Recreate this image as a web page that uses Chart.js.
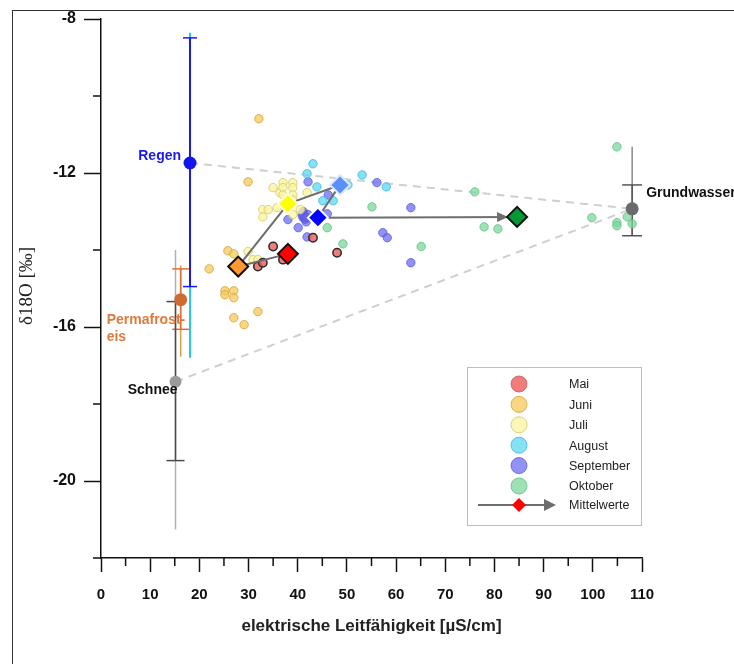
<!DOCTYPE html>
<html>
<head>
<meta charset="utf-8">
<script src="https://cdn.jsdelivr.net/npm/chart.js@4.4.1/dist/chart.umd.min.js"></script>
<style>
  html, body { margin: 0; padding: 0; background: #fff; }
</style>
</head>
<body>
<canvas id="chart" width="734" height="664"></canvas>
<script>
"use strict";

// samples per month: [elektrische Leitfähigkeit µS/cm, δ18O ‰]
const maiPts = [[35.0, -13.91], [31.9, -14.43], [32.9, -14.33], [37.0, -14.25], [43.1, -13.68], [48.0, -14.07]];
const juniPts = [[32.1, -10.59], [29.9, -12.23], [22.0, -14.49], [25.8, -14.02], [27.0, -14.10], [25.2, -15.06],
  [27.0, -15.06], [25.2, -15.16], [27.0, -15.24], [27.0, -15.76], [31.9, -15.60], [29.1, -15.94]];
const juliPts = [[35.0, -12.38], [36.4, -12.51], [37.0, -12.25], [37.0, -12.38], [37.0, -12.57], [39.0, -12.25],
  [39.0, -12.38], [39.0, -12.57], [39.0, -12.70], [41.9, -12.51], [32.9, -12.95], [34.0, -12.95], [32.9, -13.14],
  [35.8, -12.90], [39.0, -13.08], [40.5, -12.95], [30.9, -14.25], [31.9, -14.25], [29.9, -14.04]];
const augustPts = [[43.1, -11.76], [41.9, -12.02], [53.1, -12.05], [58.0, -12.36], [43.9, -12.36], [45.1, -12.72],
  [47.2, -12.72], [50.2, -12.31]];
const septemberPts = [[42.1, -12.23], [56.1, -12.25], [63.0, -12.90], [46.2, -12.57], [46.0, -13.06], [38.0, -13.21],
  [40.1, -13.42], [41.9, -13.66], [41.1, -13.00], [41.1, -13.16], [41.7, -13.27], [42.1, -13.08], [41.4, -13.12],
  [41.0, -13.05], [41.5, -13.20], [40.9, -13.10], [41.8, -13.15],
  [57.3, -13.55], [58.2, -13.68], [63.0, -14.33]];
const oktoberPts = [[55.1, -12.88], [46.0, -13.42], [49.2, -13.84], [65.1, -13.91], [76.0, -12.49], [77.9, -13.40],
  [80.7, -13.45], [99.8, -13.16], [104.9, -13.29], [104.9, -13.37], [107.0, -13.14], [108.0, -13.32], [104.9, -11.32]];

const monthNames = ['Mai', 'Juni', 'Juli', 'August', 'September', 'Oktober'];
const monthPts = [maiPts, juniPts, juliPts, augustPts, septemberPts, oktoberPts];
const monthFill = ['rgba(240,100,100,0.85)', 'rgba(245,200,90,0.75)', 'rgba(250,245,165,0.8)',
  'rgba(95,215,240,0.75)', 'rgba(100,100,240,0.7)', 'rgba(125,215,155,0.75)'];
const monthBorder = ['#2a2a2a', 'rgba(215,170,60,0.9)', 'rgba(215,205,110,0.9)',
  'rgba(70,190,225,0.9)', 'rgba(90,90,225,0.8)', 'rgba(100,195,135,0.85)'];

// Mittelwerte (monthly means), in time order
const meanX = [38.0, 27.9, 38.0, 48.6, 44.1, 84.6];
const meanY = [-14.10, -14.43, -12.80, -12.31, -13.16, -13.14];
const meanFill = ['#ff0000', '#ff9933', '#ffff00', '#5b8ff9', '#0000ff', '#009933'];
const meanBorder = ['#111', '#111', '#fffbe0', '#dce8ff', '#ffffff', '#111'];

// end members
const srcNames = ['Regen', 'Permafrost', 'Schnee', 'Grundwasser'];
const srcX = [18.1, 16.2, 15.15, 108.0];
const srcY = [-11.74, -15.29, -17.42, -12.93];
const srcErrLo = [-14.95, -16.06, -19.47, -13.63];
const srcErrHi = [-8.49, -14.49, -15.34, -12.31];
const srcRangeLo = [-16.80, -16.77, -21.26, -13.63];
const srcRangeHi = [-8.36, -14.40, -14.00, -11.32];
const srcColor = ['#1414ec', '#cf6a30', '#9a9a9a', '#6a6a6a'];
const srcBarColor = ['#1a1aee', '#e07030', '#4a4a4a', '#555555'];
const srcRangeColor = ['#25c8ee', '#d4a040', '#b0b0b0', '#8a8a8a'];
const srcCap = [7, 8.5, 9, 10];

const xTicks = [0, 10, 20, 30, 40, 50, 60, 70, 80, 90, 100, 110];
const xMinor = [5, 15, 25, 35, 45, 55, 65, 75, 85, 95, 105];
const yTicks = [-20, -16, -12, -8];
const yMinor = [-22, -18, -14, -10];

const xy = p => ({ x: p[0], y: p[1] });
const layers = [];

// mixing lines Regen/Schnee -> Grundwasser
[0, 2].forEach(i => {
  layers.push({
    label: 'mix', data: [{ x: srcX[i], y: srcY[i] }, { x: srcX[3], y: srcY[3] }],
    showLine: true, borderColor: '#cfcfcf', borderWidth: 2, borderDash: [8, 6], pointRadius: 0
  });
});

// error bars of the end members
srcNames.forEach((n, i) => {
  layers.push({
    label: 'range', data: [{ x: srcX[i], y: srcRangeLo[i] }, { x: srcX[i], y: srcRangeHi[i] }],
    showLine: true, borderColor: srcRangeColor[i], borderWidth: i == 0 ? 2 : 1.5, pointRadius: 0
  });
});
srcNames.forEach((n, i) => {
  layers.push({
    label: 'err', data: [{ x: srcX[i], y: srcErrLo[i] }, { x: srcX[i], y: srcErrHi[i] }],
    showLine: true, borderColor: srcBarColor[i], borderWidth: i == 0 ? 2 : 1.5,
    pointStyle: 'line', pointRadius: srcCap[i], pointBorderColor: srcBarColor[i], pointBorderWidth: 1.5
  });
});

// monthly samples, Oktober at the bottom, Mai on top
for (let i = monthNames.length - 1; i >= 0; i--) {
  layers.push({
    label: monthNames[i], data: monthPts[i].map(xy),
    backgroundColor: monthFill[i], borderColor: monthBorder[i], borderWidth: i == 0 ? 1.5 : 1, pointRadius: 4.2
  });
}

layers.push({
  label: 'meanLine', data: meanX.map((x, i) => ({ x: x, y: meanY[i] })),
  showLine: true, borderColor: '#6e6e6e', borderWidth: 2, pointRadius: 0
});
layers.push({
  label: 'Mittelwerte', data: meanX.map((x, i) => ({ x: x, y: meanY[i] })),
  pointStyle: 'rectRot', pointRadius: 10, backgroundColor: meanFill, borderColor: meanBorder, borderWidth: 2
});
layers.push({
  label: 'src', data: srcX.map((x, i) => ({ x: x, y: srcY[i] })),
  backgroundColor: srcColor, borderColor: srcColor, borderWidth: 0, pointRadius: [6.5, 6.5, 6, 6.5]
});
layers.forEach((d, i) => { d.order = layers.length - i; });

const decor = {
  id: 'decor',
  beforeDraw(chart) {
    const c = chart.ctx;
    c.save();
    c.strokeStyle = '#333';
    c.lineWidth = 1;
    c.strokeRect(12.5, 10.5, 900, 900);
    c.restore();
  },
  afterDatasetDraw(chart, args) {
    if (chart.data.datasets[args.index].label != 'meanLine') return;
    // arrow head into the last mean (the others sit under the diamonds)
    const c = chart.ctx, sx = chart.scales.x, sy = chart.scales.y;
    const n = meanX.length - 1;
    const x0 = sx.getPixelForValue(meanX[n - 1]), y0 = sy.getPixelForValue(meanY[n - 1]);
    const x1 = sx.getPixelForValue(meanX[n]), y1 = sy.getPixelForValue(meanY[n]);
    const a = Math.atan2(y1 - y0, x1 - x0);
    const tx = x1 - Math.cos(a) * 9, ty = y1 - Math.sin(a) * 9;
    c.save();
    c.fillStyle = '#6e6e6e';
    c.beginPath();
    c.moveTo(tx, ty);
    c.lineTo(tx - Math.cos(a) * 11 - Math.sin(a) * 5, ty - Math.sin(a) * 11 + Math.cos(a) * 5);
    c.lineTo(tx - Math.cos(a) * 11 + Math.sin(a) * 5, ty - Math.sin(a) * 11 - Math.cos(a) * 5);
    c.closePath();
    c.fill();
    c.restore();
  },
  afterDraw(chart) {
    const c = chart.ctx, sx = chart.scales.x, sy = chart.scales.y, area = chart.chartArea;
    c.save();
    // minor ticks
    c.strokeStyle = '#111';
    c.lineWidth = 1.5;
    c.beginPath();
    xMinor.forEach(v => { const p = sx.getPixelForValue(v); c.moveTo(p, area.bottom); c.lineTo(p, area.bottom + 8); });
    yMinor.forEach(v => { const p = sy.getPixelForValue(v); c.moveTo(area.left, p); c.lineTo(area.left - 8, p); });
    c.stroke();

    // y title
    c.save();
    c.translate(27, 286);
    c.rotate(-Math.PI / 2);
    c.fillStyle = '#222';
    c.textAlign = 'center';
    c.textBaseline = 'middle';
    c.font = '19px "Liberation Serif", "DejaVu Serif", serif';
    c.fillText('δ18O [‰]', 0, 0);
    c.restore();

    // end member labels
    const px = srcX.map(v => sx.getPixelForValue(v)), py = srcY.map(v => sy.getPixelForValue(v));
    c.font = 'bold 14px "Liberation Sans", Arial, sans-serif';
    c.textBaseline = 'middle';
    c.textAlign = 'right';
    c.fillStyle = '#1a1aee';
    c.fillText('Regen', px[0] - 9, py[0] - 7);
    c.fillStyle = '#111';
    c.fillText('Schnee', px[2] + 2, py[2] + 8);
    c.textAlign = 'left';
    c.fillStyle = '#e07a3c';
    c.fillText('Permafrost-', px[1] - 74, py[1] + 20);
    c.fillText('eis', px[1] - 74, py[1] + 37);
    c.fillStyle = '#111';
    c.fillText('Grundwasser', px[3] + 14, py[3] - 16);

    // legend
    const lx = 467, ly = 367, lw = 174, lh = 158;
    c.fillStyle = '#fff';
    c.fillRect(lx, ly, lw, lh);
    c.strokeStyle = '#bdbdbd';
    c.lineWidth = 1;
    c.strokeRect(lx + 0.5, ly + 0.5, lw, lh);
    c.font = '12.5px "Liberation Sans", Arial, sans-serif';
    c.textAlign = 'left';
    monthNames.forEach((n, i) => {
      const y = ly + 17 + i * 20.4;
      c.beginPath();
      c.arc(lx + 52, y, 8, 0, Math.PI * 2);
      c.fillStyle = monthFill[i];
      c.fill();
      c.strokeStyle = i == 0 ? 'rgba(200,90,90,0.8)' : monthBorder[i];
      c.lineWidth = 1;
      c.stroke();
      c.fillStyle = '#222';
      c.fillText(n, lx + 102, y + 1);
    });
    const my = ly + 138;
    c.strokeStyle = '#6e6e6e';
    c.lineWidth = 2;
    c.beginPath();
    c.moveTo(lx + 11, my);
    c.lineTo(lx + 80, my);
    c.stroke();
    c.fillStyle = '#6e6e6e';
    c.beginPath();
    c.moveTo(lx + 89, my);
    c.lineTo(lx + 77, my - 6);
    c.lineTo(lx + 77, my + 6);
    c.closePath();
    c.fill();
    c.fillStyle = '#ff0000';
    c.beginPath();
    c.moveTo(lx + 52, my - 7);
    c.lineTo(lx + 59, my);
    c.lineTo(lx + 52, my + 7);
    c.lineTo(lx + 45, my);
    c.closePath();
    c.fill();
    c.fillStyle = '#222';
    c.fillText('Mittelwerte', lx + 102, my + 1);
    c.restore();
  }
};

const tickFont = { family: '"Liberation Sans", Arial, sans-serif', size: 16, weight: 'bold' };

new Chart(document.getElementById('chart'), {
  type: 'scatter',
  data: { datasets: layers },
  options: {
    responsive: false,
    animation: false,
    devicePixelRatio: 1,
    layout: { padding: { left: 0, top: 19, right: 92, bottom: 0 } },
    plugins: { legend: { display: false }, tooltip: { enabled: false } },
    scales: {
      x: {
        type: 'linear', min: 0, max: 110,
        afterBuildTicks: s => { s.ticks = xTicks.map(v => ({ value: v })); },
        afterFit: s => { s.height = 106; },
        grid: { drawOnChartArea: false, tickLength: 14, tickColor: '#111', tickWidth: 1.5 },
        border: { display: true, color: '#111', width: 1.5 },
        ticks: { color: '#111', padding: 14, maxRotation: 0, autoSkip: false, font: { family: tickFont.family, size: 15, weight: 'bold' } },
        title: {
          display: true, text: 'elektrische Leitfähigkeit [µS/cm]', color: '#222',
          font: { family: tickFont.family, size: 17, weight: 'bold' }, padding: { top: 0, bottom: 27 }
        }
      },
      y: {
        type: 'linear', min: -22, max: -8,
        afterBuildTicks: s => { s.ticks = yTicks.map(v => ({ value: v })); },
        afterFit: s => { s.width = 101; },
        grid: { drawOnChartArea: false, tickLength: 17, tickColor: '#111', tickWidth: 1.5 },
        border: { display: true, color: '#111', width: 1.5 },
        ticks: { color: '#111', padding: 8, font: tickFont }
      }
    }
  },
  plugins: [decor]
});
</script>
</body>
</html>
